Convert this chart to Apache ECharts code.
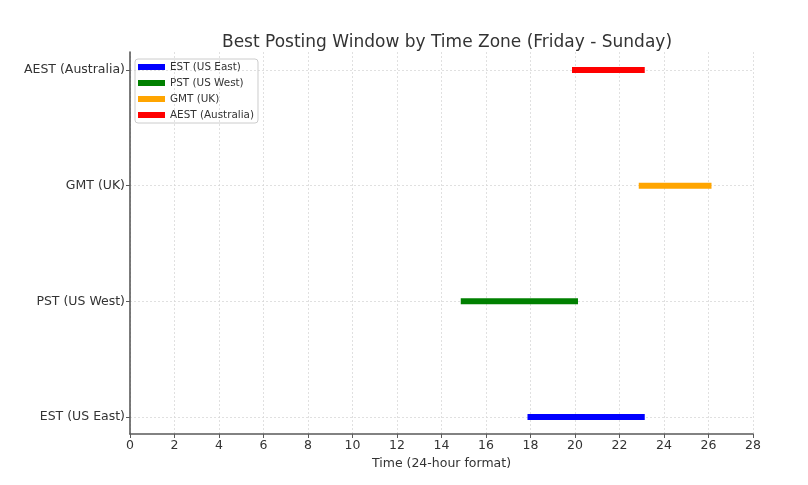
<!DOCTYPE html>
<html>
<head>
<meta charset="utf-8">
<script src="https://cdn.jsdelivr.net/npm/echarts@6/dist/echarts.min.js"></script>
<style>
  html, body { margin: 0; padding: 0; background: #fff; }
  #chart-container { width: 808px; height: 485px; }
</style>
</head>
<body>
<div id="chart-container"></div>
<script>
// time zones, bottom to top
var zones = ['EST (US East)', 'PST (US West)', 'GMT (UK)', 'AEST (Australia)'];
var startHours = [18, 15, 23, 20];
var endHours = [23, 20, 26, 23];
var zoneColors = ['#0000ff', '#008000', '#ffa500', '#ff0000'];
var xTicks = [0, 28, 2]; // min, max, interval

var dom = document.getElementById('chart-container');
var myChart = echarts.init(dom, null, { renderer: 'canvas' });

var font = 'DejaVu Sans';
var gridLine = { show: true, lineStyle: { color: '#d8d8d8', type: [2, 2], width: 0.8 } };
var axisColor = '#5a5a5a';

var series = zones.map(function (z, i) {
  return {
    name: z,
    type: 'line',
    xAxisIndex: 1,
    yAxisIndex: 1,
    showSymbol: false,
    symbol: 'none',
    color: zoneColors[i],
    lineStyle: { width: 6, cap: 'square' },
    data: [[startHours[i], z], [endHours[i], z]]
  };
});

var option = {
  animation: false,
  title: {
    text: 'Best Posting Window by Time Zone (Friday - Sunday)',
    left: 442, top: 29,
    textAlign: 'center',
    textStyle: { fontFamily: font, fontSize: 17, fontWeight: 'normal', color: '#333' }
  },
  legend: {
    orient: 'vertical',
    left: 135, top: 59,
    padding: [3, 4, 3, 3],
    itemGap: 6,
    itemWidth: 27,
    itemHeight: 6,
    icon: 'rect',
    borderColor: '#cccccc',
    borderWidth: 1,
    borderRadius: 3,
    data: zones,
    textStyle: { fontFamily: font, fontSize: 10.4, color: '#333' }
  },
  grid: [
    { left: 130, right: 55, top: 52, bottom: 51 },
    { left: 130, right: 55, top: 70, bottom: 68 }
  ],
  xAxis: [
    {
      gridIndex: 0, type: 'value',
      min: xTicks[0], max: xTicks[1], interval: xTicks[2],
      name: 'Time (24-hour format)', nameLocation: 'middle', nameGap: 17,
      nameTextStyle: { fontFamily: font, fontSize: 12.5, color: '#333' },
      axisLine: { show: true, lineStyle: { color: axisColor, width: 1.6 } },
      axisTick: { show: true, length: 4, lineStyle: { color: axisColor } },
      axisLabel: { fontFamily: font, fontSize: 12.5, color: '#333', margin: 5 },
      splitLine: gridLine
    },
    {
      gridIndex: 1, type: 'value', show: false,
      min: xTicks[0], max: xTicks[1]
    }
  ],
  yAxis: [
    {
      gridIndex: 0, type: 'value', min: 0, max: 1,
      axisLine: { show: true, lineStyle: { color: axisColor, width: 1.6 } },
      axisTick: { show: false }, axisLabel: { show: false }, splitLine: { show: false }
    },
    {
      gridIndex: 1, type: 'category', data: zones, boundaryGap: false,
      axisLine: { show: false },
      axisTick: { show: true, length: 4, lineStyle: { color: axisColor } },
      axisLabel: { fontFamily: font, fontSize: 12.5, color: '#333', margin: 5 },
      splitLine: gridLine
    }
  ],
  series: series
};

myChart.setOption(option);
window.addEventListener('resize', myChart.resize);
</script>
</body>
</html>
